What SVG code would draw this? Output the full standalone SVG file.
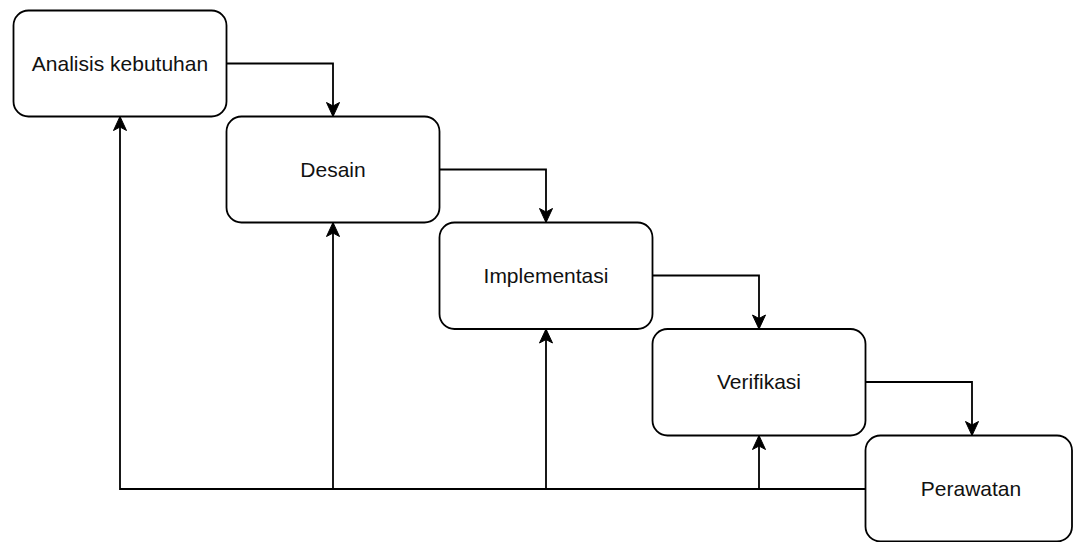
<svg xmlns="http://www.w3.org/2000/svg" width="1073" height="542" viewBox="0 0 1073 542">
<style>
.box{fill:#fff;stroke:#000;stroke-width:1.8}
.lbl{font-family:"Liberation Sans",Arial,Helvetica,sans-serif;font-size:21px;fill:#111;text-anchor:middle}
.edge{fill:none;stroke:#000;stroke-width:1.8}
</style>
<defs>
<marker id="arr" markerUnits="userSpaceOnUse" markerWidth="16" markerHeight="16" refX="15" refY="7" orient="auto" overflow="visible">
<path d="M1,0.5 L15,7 L1,13.5 L4.5,7 Z" fill="#000" stroke="#000" stroke-width="1"/>
</marker>
</defs>
<rect x="0" y="0" width="1073" height="542" fill="#fff"/>
<g id="connectors">
<path class="edge" d="M226.5,63.5 H333 V116.5" marker-end="url(#arr)"/>
<path class="edge" d="M439.5,169.5 H546 V222.5" marker-end="url(#arr)"/>
<path class="edge" d="M652.5,275.5 H759 V329" marker-end="url(#arr)"/>
<path class="edge" d="M865.5,382 H972 V435.5" marker-end="url(#arr)"/>
<path class="edge" d="M865.5,489 H120 V116.5" marker-end="url(#arr)"/>
<path class="edge" d="M333,489 V222.5" marker-end="url(#arr)"/>
<path class="edge" d="M546,489 V329" marker-end="url(#arr)"/>
<path class="edge" d="M759,489 V435.5" marker-end="url(#arr)"/>
</g>
<g id="node-analisis">
<rect class="box" x="13.5" y="10.5" width="213" height="106" rx="15" ry="15"/>
<text class="lbl" x="120" y="70.5">Analisis kebutuhan</text>
</g>
<g id="node-desain">
<rect class="box" x="226.5" y="116.5" width="213" height="106" rx="15" ry="15"/>
<text class="lbl" x="333" y="176.5">Desain</text>
</g>
<g id="node-implementasi">
<rect class="box" x="439.5" y="222.5" width="213" height="106.5" rx="15" ry="15"/>
<text class="lbl" x="546" y="282.5">Implementasi</text>
</g>
<g id="node-verifikasi">
<rect class="box" x="652.5" y="329" width="213" height="106.5" rx="15" ry="15"/>
<text class="lbl" x="759" y="389">Verifikasi</text>
</g>
<g id="node-perawatan">
<rect class="box" x="865.5" y="435.5" width="206.5" height="106" rx="15" ry="15"/>
<text class="lbl" x="971" y="496">Perawatan</text>
</g>
</svg>
